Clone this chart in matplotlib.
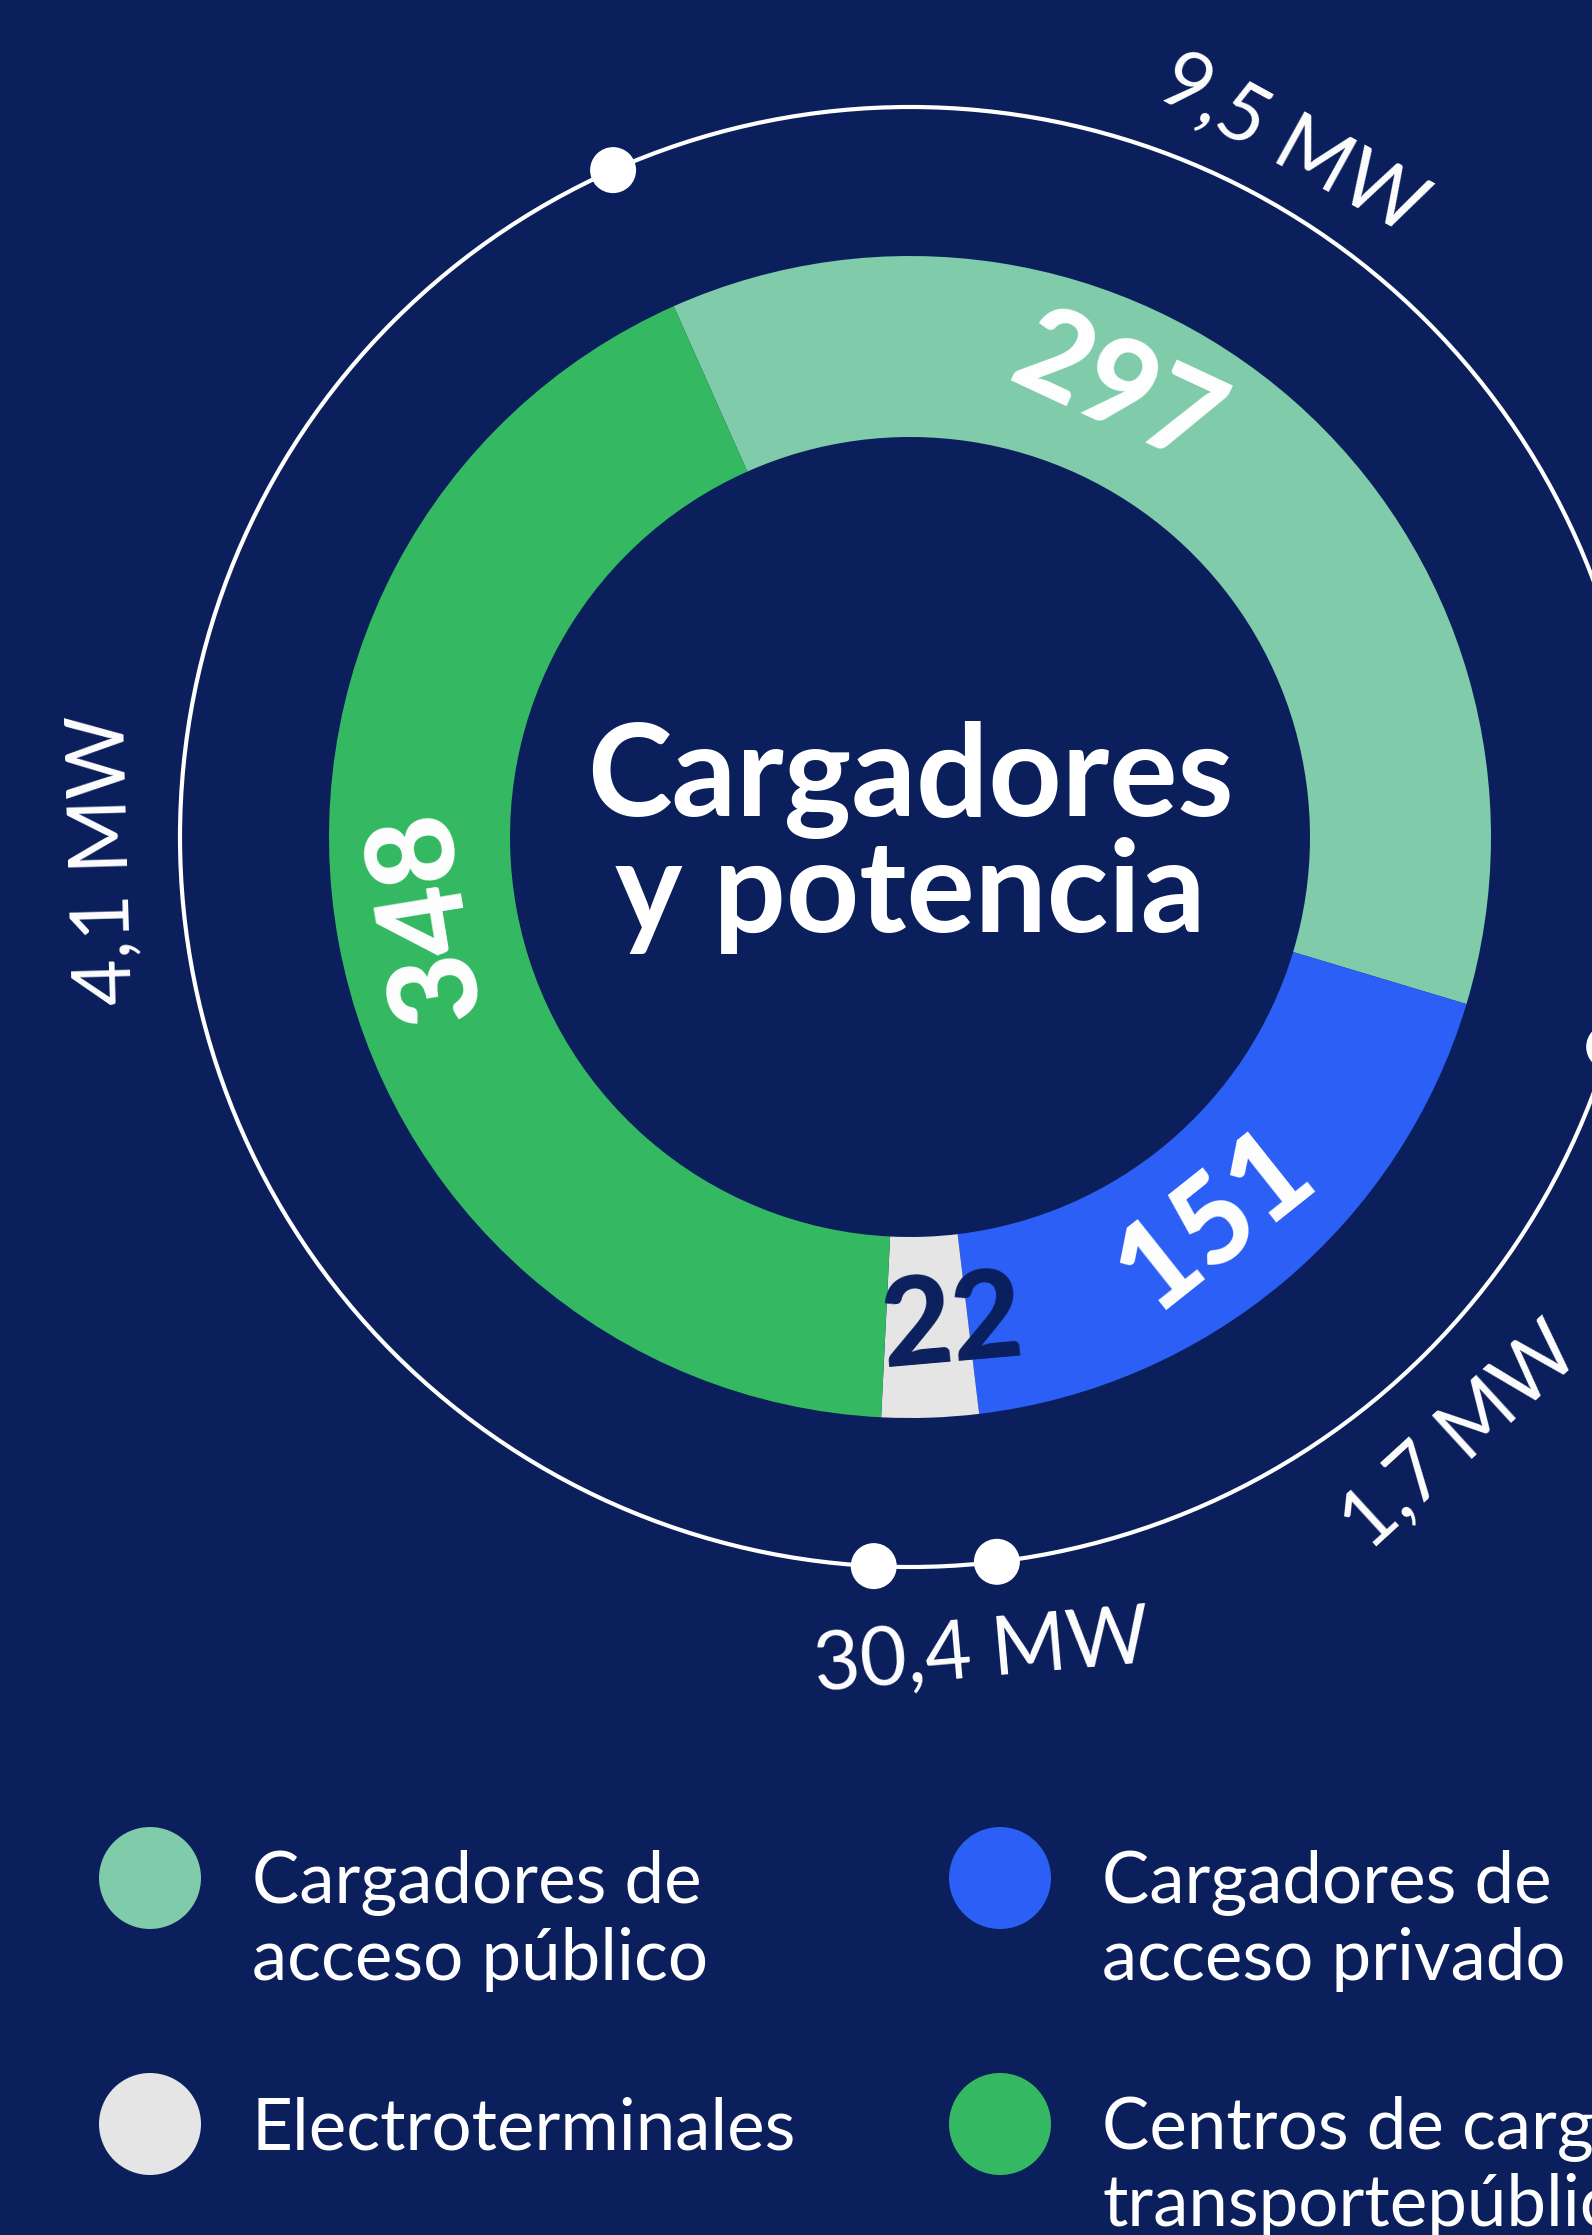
import matplotlib
matplotlib.use("Agg")
import numpy as np
import matplotlib.pyplot as plt
from matplotlib.patches import Circle

plt.rcParams['font.family'] = ['Lato', 'DejaVu Sans']

# Data
categories = ["Cargadores de\nacceso público", "Cargadores de\nacceso privado",
              "Electroterminales", "Centros de carga de\ntransportepúblico"]
chargers = [297, 151, 22, 348]
power_labels = ["9,5 MW", "1,7 MW", "30,4 MW", "4,1 MW"]
colors = ["#7FCBAA", "#2C5FF6", "#E5E5E5", "#34B962"]
value_colors = ["white", "white", "#0A1F5C", "white"]

BG = "#0A1F5C"
W, H = 1592, 2235
cx, cy = 910, H - 837

fig = plt.figure(figsize=(W / 100, H / 100), dpi=100, facecolor=BG)
ax = fig.add_axes([0, 0, 1, 1])
ax.set_facecolor(BG)

start = 114
ax.pie(chargers, colors=colors, startangle=start, counterclock=False,
       center=(cx, cy), radius=581,
       wedgeprops=dict(width=181, linewidth=0), frame=False)
ax.set_xlim(0, W)
ax.set_ylim(0, H)
ax.set_aspect('equal')
ax.axis('off')

# outer ring with dots at the segment boundaries
R_out = 730
ax.add_patch(Circle((cx, cy), R_out, fill=False, ec="white", lw=3))
total = sum(chargers)
bounds = start - 360 * np.concatenate([[0], np.cumsum(chargers)[:-1]]) / total
for a in bounds:
    t = np.deg2rad(a)
    ax.add_patch(Circle((cx + R_out * np.cos(t), cy + R_out * np.sin(t)), 23,
                        fc="white", ec="none", zorder=5))


def tangent_rot(a):
    # text follows the ring; only the lower half is flipped to stay readable
    r = (a - 90 + 180) % 360 - 180
    if r < -90:
        r += 180
    return r


# value labels inside the ring
val_angles = [65, -51.5, -85, 189.3]
for v, a, c in zip(chargers, val_angles, value_colors):
    t = np.deg2rad(a)
    ax.text(cx + 490 * np.cos(t), cy + 490 * np.sin(t), str(v),
            rotation=tangent_rot(a), rotation_mode='anchor',
            ha='center', va='center', fontsize=88, fontweight='black', color=c)

# power labels around the outer ring
pow_angles = [61.1, -47.5, -85, 181.6]
pow_radii = [790, 815, 820, 805]
for s, a, r in zip(power_labels, pow_angles, pow_radii):
    t = np.deg2rad(a)
    ax.text(cx + r * np.cos(t), cy + r * np.sin(t), s,
            rotation=tangent_rot(a), rotation_mode='anchor',
            ha='center', va='center', fontsize=58, color="white")

# center title
ax.text(cx, H - 780, "Cargadores", ha='center', va='center',
        fontsize=92, fontweight='bold', color="white")
ax.text(cx, H - 895, "y potencia", ha='center', va='center',
        fontsize=92, fontweight='bold', color="white")

# legend
leg_pos = [(150, 1878), (1000, 1878), (150, 2124), (1000, 2124)]
for (lx, ly), lab, c in zip(leg_pos, categories, colors):
    ax.add_patch(Circle((lx, H - ly), 51, fc=c, ec="none"))
    for i, line in enumerate(lab.split("\n")):
        ax.text(lx + 102, H - (ly + 25 + 77 * i), line, ha='left',
                va='baseline', fontsize=51, color="white")

fig.savefig("out.png", dpi=100, facecolor=BG)
